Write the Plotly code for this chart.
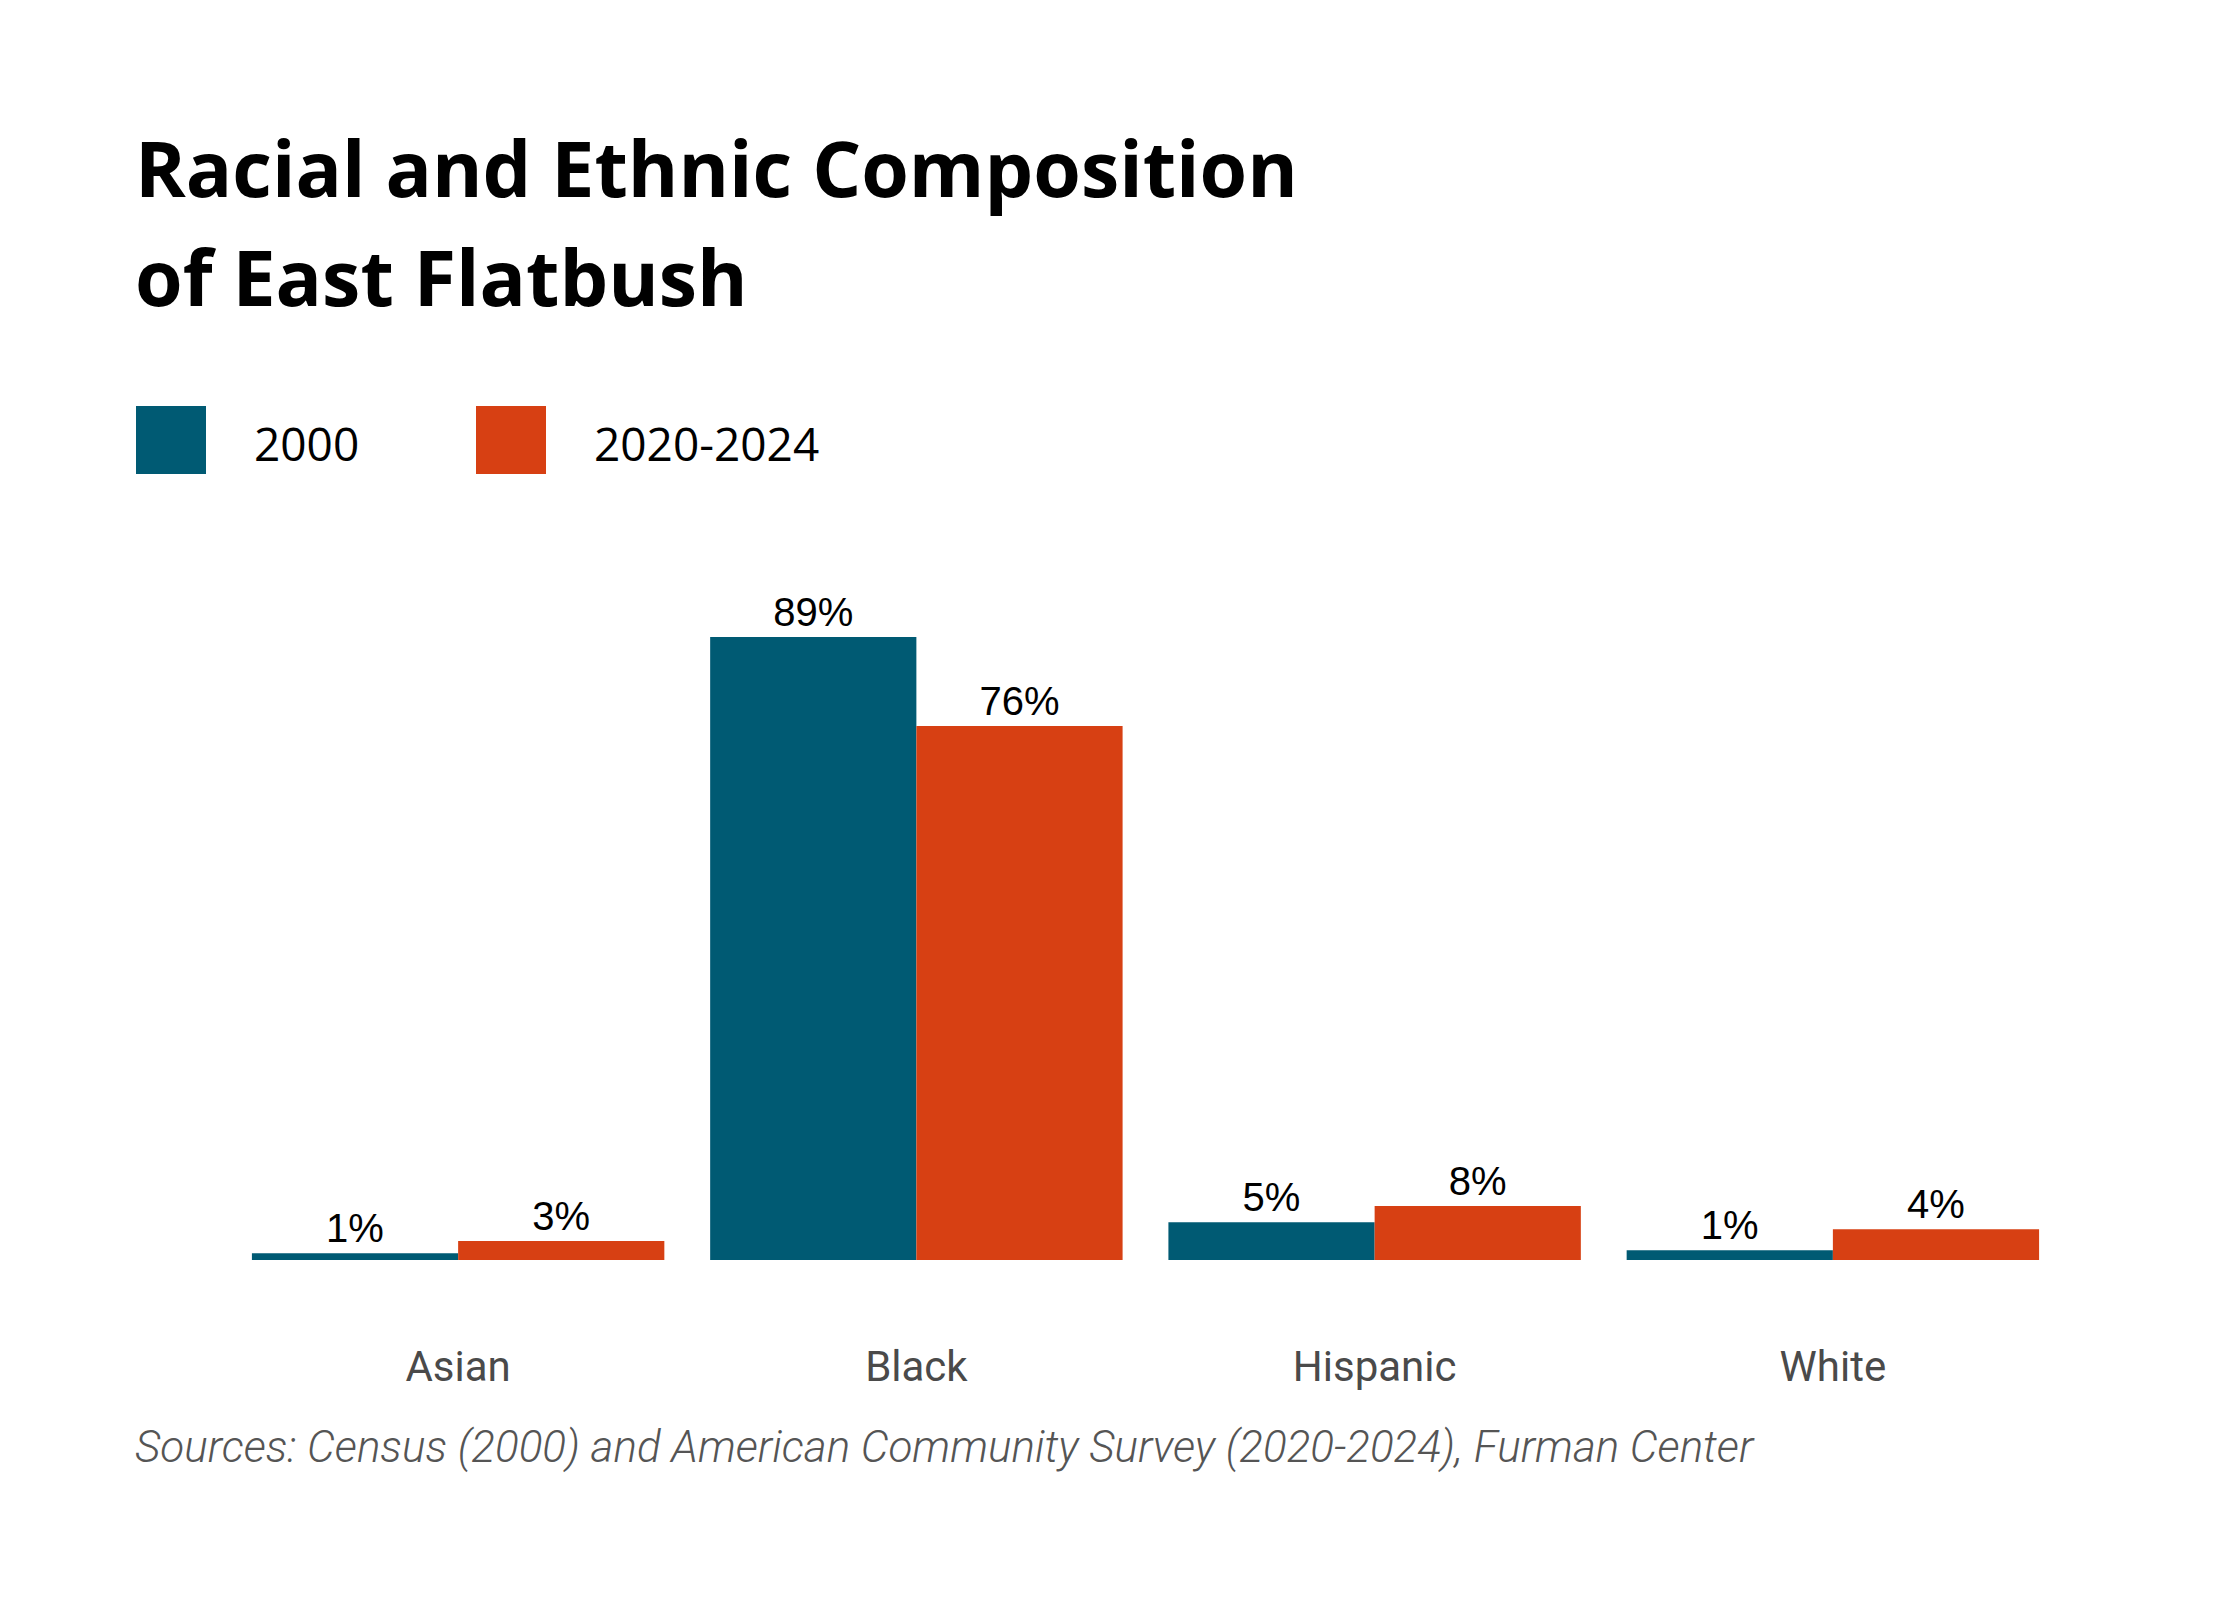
import plotly.graph_objects as go

groups = ["Asian", "Black", "Hispanic", "White"]
series_names = ["2000", "2020-2024"]
share_2000 = [0.95, 89.0, 5.4, 1.4]
share_2020_2024 = [2.7, 76.3, 7.7, 4.4]

title_lines = ["Racial and Ethnic Composition", "of East Flatbush"]
source_note = "Sources: Census (2000) and American Community Survey (2020-2024), Furman Center"

TEAL = "#005a73"
ORANGE = "#d74013"

W, H = 2240, 1600
OFF = 8  # page body margin
L, R, T, B = 221, 186, 552, 348
PW, PH = W - L - R, H - T - B


# screen pixel -> paper coords
def px(x):
    return (x - OFF - L) / PW


def py(y):
    return (H - B - (y - OFF)) / PH


fig = go.Figure()
for name, vals, col in [(series_names[0], share_2000, TEAL),
                        (series_names[1], share_2020_2024, ORANGE)]:
    fig.add_trace(go.Bar(
        x=groups, y=vals, name=name,
        marker=dict(color=col, line=dict(width=0)),
        texttemplate="%{y:.0f}%", textposition="outside",
        textfont=dict(family="Liberation Sans, Arial", size=40, color="#000000"),
        cliponaxis=False, showlegend=False,
    ))

# title
for line, yc in zip(title_lines, [168, 276]):
    fig.add_annotation(text="<b>" + line + "</b>", x=px(133), y=py(yc),
                       xref="paper", yref="paper", xanchor="left", yanchor="middle",
                       showarrow=False, font=dict(family="Open Sans", size=77, color="#000000"))

# legend drawn by hand (big swatches)
for i, (name, col) in enumerate(zip(series_names, [TEAL, ORANGE])):
    x0 = 136 + i * 340
    fig.add_shape(type="rect", xref="paper", yref="paper",
                  x0=px(x0), x1=px(x0 + 70), y0=py(474), y1=py(406),
                  fillcolor=col, line=dict(width=0))
    fig.add_annotation(text=name, x=px(x0 + 116), y=py(443),
                       xref="paper", yref="paper", xanchor="left", yanchor="middle",
                       showarrow=False, font=dict(family="Open Sans", size=46, color="#000000"))

fig.add_annotation(text="<i>" + source_note + "</i>", x=px(133), y=py(1447),
                   xref="paper", yref="paper", xanchor="left", yanchor="middle",
                   showarrow=False, font=dict(family="Roboto", size=44, color="#555555", weight=300))

fig.update_layout(
    width=W, height=H,
    margin=dict(l=L, r=R, t=T, b=B),
    paper_bgcolor="white", plot_bgcolor="white",
    barmode="group", bargap=0.1, bargroupgap=0,
    xaxis=dict(showline=False, showgrid=False, ticks="", ticklabelstandoff=78,
               tickfont=dict(family="Roboto", size=42, color="#4a4a4a")),
    yaxis=dict(range=[0, 100], visible=False),
)

fig.write_html("out.html")
